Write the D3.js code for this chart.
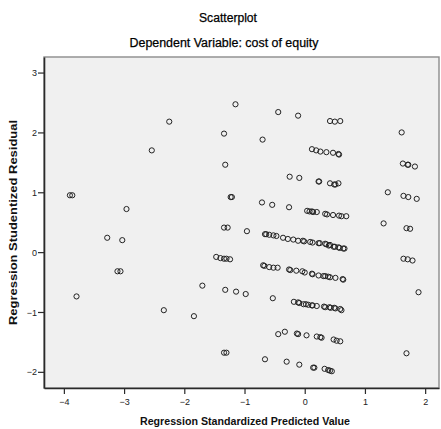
<!DOCTYPE html>
<html>
<head>
<meta charset="utf-8">
<script src="https://cdn.jsdelivr.net/npm/d3@7"></script>
<style>
  body { margin: 0; background: #fff; }
  svg { display: block; font-family: "Liberation Sans", Arial, sans-serif; }
</style>
</head>
<body>
<div id="chart"></div>
<script>
// values (regression standardized predicted value / studentized residual)
var predicted = [
  -3.90, -3.86, -2.96, -3.28, -3.03, -3.11, -3.06, -3.79, -2.54, -2.25,
  -2.34, -1.84, -1.15, -1.34, -1.32, -0.44, -0.70, -0.11, -0.25, -0.09,
  -1.23, -1.21, -0.71, -0.54, -0.26, -1.34, -1.28, -0.96, -1.70, -1.32,
  -1.14, -0.98, -1.34, -1.30, -0.66, -0.53,
  1.61, 1.63, 1.71, 1.72, 1.83, 1.38, 1.64, 1.72, 1.86, 1.31,
  1.69, 1.75, 1.64, 1.71, 1.79, 1.89, 1.69,
  0.42, 0.50, 0.59,
  0.12, 0.19, 0.26, 0.36, 0.47, 0.56, 0.57,
  0.23, 0.24, 0.42, 0.49, 0.51, 0.56,
  0.04, 0.08, 0.12, 0.14, 0.20, 0.34, 0.37, 0.47, 0.57, 0.61, 0.69,
  -0.66, -0.64, -0.59, -0.52, -0.47, -0.36, -0.28, -0.19, -0.11, -0.03,
  -0.01, 0.09, 0.13, 0.23, 0.25, 0.34, 0.36, 0.40, 0.42, 0.48,
  0.50, 0.56, 0.58, 0.64, 0.66,
  -1.47, -1.40, -1.34, -1.30, -1.24, -0.69, -0.67, -0.59, -0.52, -0.45,
  -0.26, -0.24, -0.14, -0.04, 0.00, 0.12, 0.13, 0.23, 0.31, 0.34,
  0.39, 0.42, 0.51, 0.63, 0.64,
  -0.18, -0.11, -0.09, -0.02, 0.02, 0.06, 0.12, 0.13, 0.20, 0.32,
  0.34, 0.41, 0.43, 0.49, 0.51, 0.59, 0.61,
  -0.44, -0.33, -0.13, -0.11, 0.03, 0.20, 0.26, 0.28, 0.48, 0.53, 0.59,
  -0.30, -0.09, 0.14, 0.16, 0.33, 0.39, 0.42, 0.45
]

var residual = [
  0.95, 0.95, 0.72, 0.24, 0.20, -0.32, -0.32, -0.74, 1.70, 2.18,
  -0.97, -1.07, 2.47, 1.98, 1.46, 2.34, 1.88, 2.28, 1.26, 1.24,
  0.92, 0.92, 0.83, 0.79, 0.75, 0.41, 0.41, 0.35, -0.56, -0.63,
  -0.66, -0.70, -1.68, -1.68, -1.79, -0.77,
  2.00, 1.48, 1.46, 1.46, 1.43, 1.00, 0.94, 0.92, 0.89, 0.48,
  0.40, 0.39, -0.11, -0.12, -0.14, -0.67, -1.69,
  2.19, 2.18, 2.19,
  1.72, 1.70, 1.68, 1.67, 1.66, 1.64, 1.63,
  1.18, 1.18, 1.15, 1.13, 1.13, 1.15,
  0.69, 0.68, 0.68, 0.67, 0.67, 0.64, 0.63, 0.62, 0.61, 0.60, 0.60,
  0.30, 0.30, 0.29, 0.28, 0.27, 0.24, 0.22, 0.21, 0.19, 0.19,
  0.18, 0.17, 0.16, 0.15, 0.15, 0.14, 0.13, 0.11, 0.12, 0.09,
  0.09, 0.08, 0.07, 0.06, 0.06,
  -0.08, -0.10, -0.11, -0.11, -0.12, -0.22, -0.23, -0.25, -0.26, -0.26,
  -0.29, -0.30, -0.31, -0.32, -0.34, -0.36, -0.37, -0.39, -0.40, -0.40,
  -0.41, -0.42, -0.43, -0.45, -0.46,
  -0.83, -0.84, -0.85, -0.87, -0.87, -0.88, -0.89, -0.89, -0.90, -0.91,
  -0.92, -0.92, -0.93, -0.93, -0.94, -0.95, -0.97,
  -1.37, -1.33, -1.36, -1.37, -1.39, -1.41, -1.42, -1.43, -1.46, -1.48, -1.49,
  -1.83, -1.88, -1.93, -1.93, -1.95, -1.97, -1.98, -1.99
]

var xTicks = [-4, -3, -2, -1, 0, 1, 2]
var yTicks = [-2, -1, 0, 1, 2, 3]

var title = 'Scatterplot'
var subtitle = 'Dependent Variable: cost of equity'
var xTitle = 'Regression Standardized Predicted Value'
var yTitle = 'Regression Studentized Residual'

var WIDTH = 441
var HEIGHT = 429
var LEFT = 44
var RIGHT = 439
var TOP = 57
var BOTTOM = 388

var svg = d3.select('#chart').append('svg')
  .attr('width', WIDTH)
  .attr('height', HEIGHT)

var x = d3.scaleLinear().domain([-4.33, 2.23]).range([LEFT, RIGHT])
var y = d3.scaleLinear().domain([-2.27, 3.26]).range([BOTTOM, TOP])

// plot background + frame
svg.append('rect')
  .attr('x', LEFT)
  .attr('y', TOP)
  .attr('width', RIGHT - LEFT)
  .attr('height', BOTTOM - TOP)
  .attr('fill', '#f0f0f0')
  .attr('stroke', '#8c8c8c')
  .attr('stroke-width', 1.4)

// axes
var xAxis = svg.append('g')
  .attr('transform', 'translate(0,' + BOTTOM + ')')
  .call(d3.axisBottom(x).tickValues(xTicks).tickFormat(d3.format('d')).tickSize(6).tickSizeOuter(0))
var yAxis = svg.append('g')
  .attr('transform', 'translate(' + LEFT + ',0)')
  .call(d3.axisLeft(y).tickValues(yTicks).tickFormat(d3.format('d')).tickSize(6).tickSizeOuter(0))

;[xAxis, yAxis].forEach(function (g) {
  g.select('.domain').attr('stroke', '#2a2a2a').attr('stroke-width', 1.6)
  g.selectAll('.tick line').attr('stroke', '#2a2a2a').attr('stroke-width', 1.2)
  g.selectAll('.tick text')
    .attr('fill', '#222')
    .style('font-size', '9px')
    .style('font-family', '"Liberation Sans", Arial, sans-serif')
})
xAxis.selectAll('.tick text').attr('dy', '0.9em')
yAxis.selectAll('.tick text').attr('x', -7).attr('dy', '0.35em')

// points
var points = predicted.map(function (d, i) { return [d, residual[i]] })
svg.append('g').selectAll('circle')
  .data(points)
  .enter().append('circle')
  .attr('cx', function (d) { return x(d[0]) })
  .attr('cy', function (d) { return y(d[1]) })
  .attr('r', 2.6)
  .attr('fill', 'none')
  .attr('stroke', '#222')
  .attr('stroke-width', 1)

// titles
svg.append('text')
  .attr('x', 228).attr('y', 22)
  .attr('text-anchor', 'middle')
  .attr('textLength', 58).attr('lengthAdjust', 'spacingAndGlyphs')
  .style('font-size', '12px')
  .attr('fill', '#000')
  .attr('stroke', '#000').attr('stroke-width', 0.25)
  .text(title)

svg.append('text')
  .attr('x', 224).attr('y', 47)
  .attr('text-anchor', 'middle')
  .attr('textLength', 189).attr('lengthAdjust', 'spacingAndGlyphs')
  .style('font-size', '12.5px')
  .attr('fill', '#000')
  .attr('stroke', '#000').attr('stroke-width', 0.25)
  .text(subtitle)

svg.append('text')
  .attr('x', 245).attr('y', 425)
  .attr('text-anchor', 'middle')
  .attr('textLength', 210).attr('lengthAdjust', 'spacingAndGlyphs')
  .style('font-size', '11.5px')
  .style('font-weight', 'bold')
  .attr('fill', '#111')
  .text(xTitle)

svg.append('text')
  .attr('transform', 'translate(17,' + (TOP + BOTTOM) / 2 + ') rotate(-90)')
  .attr('text-anchor', 'middle')
  .attr('textLength', 205).attr('lengthAdjust', 'spacingAndGlyphs')
  .style('font-size', '11.5px')
  .style('font-weight', 'bold')
  .attr('fill', '#111')
  .text(yTitle)
</script>
</body>
</html>
